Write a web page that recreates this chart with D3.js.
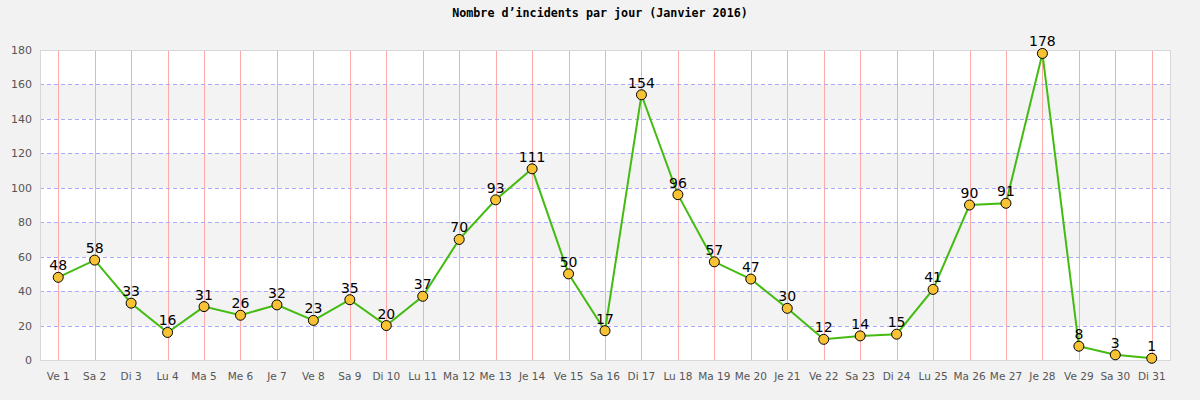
<!DOCTYPE html>
<html><head><meta charset="utf-8">
<script src="https://cdn.jsdelivr.net/npm/d3@7"></script>
<style>body{margin:0;background:#f2f2f2}</style>
</head><body>
<svg id="c" width="1200" height="400"></svg>
<script>
const title = "Nombre d\u2019incidents par jour (Janvier 2016)";
const categories = ["Ve 1","Sa 2","Di 3","Lu 4","Ma 5","Me 6","Je 7","Ve 8","Sa 9","Di 10","Lu 11","Ma 12","Me 13","Je 14","Ve 15","Sa 16","Di 17","Lu 18","Ma 19","Me 20","Je 21","Ve 22","Sa 23","Di 24","Lu 25","Ma 26","Me 27","Je 28","Ve 29","Sa 30","Di 31"];
const values = [48,58,33,16,31,26,32,23,35,20,37,70,93,111,50,17,154,96,57,47,30,12,14,15,41,90,91,178,8,3,1];
const yTicks = [0,20,40,60,80,100,120,140,160,180];

const svg = d3.select("#c");
const L=40, R=1170, T=50, B=360;
svg.append("rect").attr("width",1200).attr("height",400).attr("fill","#f2f2f2");
const x = d3.scaleBand().domain(categories).range([L,R]);
const y = d3.scaleLinear().domain([0,180]).range([B,T]);
const g = svg.append("g");
for(let i=0;i<yTicks.length-1;i++){
  g.append("rect").attr("x",L).attr("width",R-L)
   .attr("y",y(yTicks[i+1])).attr("height",y(yTicks[i])-y(yTicks[i+1]))
   .attr("fill", i%2===0 ? "#ffffff" : "#f3f3f3");
}
g.selectAll(".vg").data(categories).join("line")
 .attr("x1",d=>Math.round(x(d)+x.bandwidth()/2)+0.5).attr("x2",d=>Math.round(x(d)+x.bandwidth()/2)+0.5)
 .attr("y1",T).attr("y2",B).attr("stroke","#ffaaaa").attr("stroke-width",1);
g.selectAll(".hg").data(yTicks.filter(t=>t>0&&t<180)).join("line")
 .attr("x1",L).attr("x2",R).attr("y1",d=>Math.round(y(d))+0.5).attr("y2",d=>Math.round(y(d))+0.5)
 .attr("stroke","#aaaaff").attr("stroke-dasharray","4,3");
g.append("rect").attr("x",L+0.5).attr("y",T+0.5).attr("width",R-L).attr("height",B-T)
 .attr("fill","none").attr("stroke","#d8d8d8");
g.selectAll(".yl").data(yTicks).join("text")
 .attr("x",L-8).attr("y",d=>y(d)+4).attr("text-anchor","end")
 .attr("font-family","DejaVu Sans").attr("font-size",11).attr("fill","#555").text(d=>d);
g.selectAll(".xl").data(categories).join("text")
 .attr("x",d=>x(d)+x.bandwidth()/2).attr("y",380).attr("text-anchor","middle")
 .attr("font-family","DejaVu Sans").attr("font-size",10.5).attr("fill","#555").text(d=>d);
const line = d3.line().x((d,i)=>x(categories[i])+x.bandwidth()/2).y(d=>y(d));
g.append("path").datum(values).attr("d",line).attr("fill","none").attr("stroke","#44bb11").attr("stroke-width",2);
g.selectAll(".pt").data(values).join("circle")
 .attr("cx",(d,i)=>x(categories[i])+x.bandwidth()/2).attr("cy",d=>y(d)).attr("r",5)
 .attr("fill","#f7c233").attr("stroke","#000").attr("stroke-width",1);
g.selectAll(".vl").data(values).join("text")
 .attr("x",(d,i)=>x(categories[i])+x.bandwidth()/2).attr("y",d=>y(d)-7).attr("text-anchor","middle")
 .attr("font-family","DejaVu Sans").attr("font-size",14).attr("fill","#000").text(d=>d);
svg.append("text").attr("x",600).attr("y",17).attr("text-anchor","middle")
 .attr("font-family","DejaVu Sans Mono").attr("font-weight","bold").attr("font-size",11.7).attr("fill","#000").text(title);
</script>
</body></html>
